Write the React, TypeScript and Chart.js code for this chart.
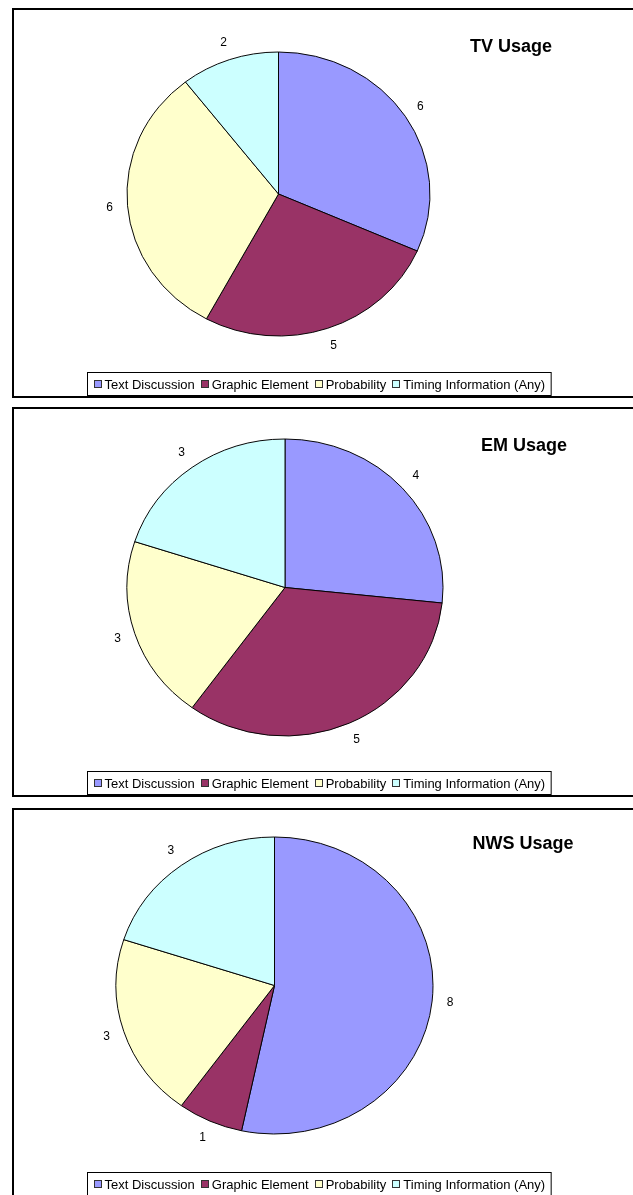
import React, { useEffect, useRef } from "react";
import { Chart, registerables } from "chart.js";

Chart.register(...registerables);

// ---- data ----
const categories = ["Text Discussion", "Graphic Element", "Probability", "Timing Information (Any)"];
const tvValues = [6, 5, 6, 2];
const emValues = [4, 5, 3, 3];
const nwsValues = [8, 1, 3, 3];
const chartTitles = ["TV Usage", "EM Usage", "NWS Usage"];
const seriesValues = [tvValues, emValues, nwsValues];
const sliceColors = ["#9999FF", "#993366", "#FFFFCC", "#CCFFFF"];

// ---- layout (page coordinates) ----
const BORDER = 2;
const PANEL_LEFT = 12;
const PANEL_H = 390;
const CANVAS_W = 633 - PANEL_LEFT - BORDER;
const CANVAS_H = PANEL_H - 2 * BORDER;
const panelLayouts = [
  { top: 8, cx: 278.5, cy: 194, rx: 151.5, ry: 142, titleX: 511, titleY: 52 },
  { top: 407, cx: 285, cy: 587.5, rx: 158, ry: 148.5, titleX: 524, titleY: 451 },
  { top: 808, cx: 274.5, cy: 985.5, rx: 158.5, ry: 148.5, titleX: 523, titleY: 849 },
];
const LEGEND_CX = 318.5;
const LEGEND_TOP_OFFSET = 364; // from panel top
const LEGEND_H = 23;
const FONT = "'Liberation Sans', Arial, Helvetica, sans-serif";

function PiePanel({ idx }: { idx: number }) {
  const ref = useRef<HTMLCanvasElement | null>(null);
  const L = panelLayouts[idx];
  const ox = PANEL_LEFT + BORDER;
  const oy = L.top + BORDER;

  useEffect(() => {
    if (!ref.current) return;
    const cx = L.cx - ox;
    const cy = L.cy - oy;
    const k = L.ry / L.rx;

    const ellipsePlugin = {
      id: "ellipseAndLabels",
      beforeDatasetsDraw(chart: any) {
        const ctx = chart.ctx;
        const a = chart.getDatasetMeta(0).data[0];
        ctx.save();
        ctx.translate(a.x, a.y);
        ctx.scale(1, k);
        ctx.translate(-a.x, -a.y);
      },
      afterDatasetsDraw(chart: any) {
        const ctx = chart.ctx;
        ctx.restore();
        const meta = chart.getDatasetMeta(0);
        const data = chart.data.datasets[0].data as number[];
        ctx.save();
        ctx.fillStyle = "#000";
        ctx.font = `12px ${FONT}`;
        ctx.textAlign = "center";
        ctx.textBaseline = "middle";
        const d = 18;
        meta.data.forEach((arc: any, i: number) => {
          const mid = (arc.startAngle + arc.endAngle) / 2;
          const r = arc.outerRadius;
          const x = arc.x + (r + d) * Math.cos(mid);
          const y = arc.y + (r * k + d) * Math.sin(mid);
          ctx.fillText(String(data[i]), x, y);
        });
        // title
        ctx.font = `bold 18px ${FONT}`;
        ctx.textBaseline = "alphabetic";
        ctx.fillText(chartTitles[idx], L.titleX - ox, L.titleY - oy);
        // legend
        ctx.font = `13px ${FONT}`;
        const marker = 8;
        const gapAfterMarker = 3;
        const gapItems = 6;
        const padX = 6;
        const widths = categories.map((c) => ctx.measureText(c).width);
        let total = padX * 2;
        widths.forEach((w, i) => {
          total += marker + gapAfterMarker + w + (i < widths.length - 1 ? gapItems : 0);
        });
        const bx = Math.round(LEGEND_CX - ox - total / 2) + 0.5;
        const by = LEGEND_TOP_OFFSET - BORDER + 0.5;
        ctx.strokeStyle = "#000";
        ctx.lineWidth = 1;
        ctx.fillStyle = "#fff";
        ctx.fillRect(bx, by, total, LEGEND_H);
        ctx.strokeRect(bx, by, total, LEGEND_H);
        let x = bx + padX;
        const midY = by + LEGEND_H / 2;
        ctx.textAlign = "left";
        ctx.textBaseline = "middle";
        categories.forEach((c, i) => {
          const mx = Math.round(x) + 0.5;
          const my = Math.round(midY - marker / 2) + 0.5;
          ctx.fillStyle = sliceColors[i];
          ctx.fillRect(mx, my, marker - 1, marker - 1);
          ctx.strokeStyle = "#333";
          ctx.strokeRect(mx, my, marker - 1, marker - 1);
          x += marker + gapAfterMarker;
          ctx.fillStyle = "#000";
          ctx.fillText(c, x, midY + 1);
          x += widths[i] + gapItems;
        });
        ctx.restore();
      },
    };

    const chart = new Chart(ref.current, {
      type: "pie",
      data: {
        labels: categories,
        datasets: [
          {
            data: seriesValues[idx],
            backgroundColor: sliceColors,
            borderColor: "#000",
            borderWidth: 1,
          },
        ],
      },
      options: {
        responsive: false,
        devicePixelRatio: 1,
        animation: false,
        events: [],
        radius: L.rx,
        layout: {
          padding: { left: 0, top: 0, right: CANVAS_W - 2 * cx, bottom: CANVAS_H - 2 * cy },
        },
        plugins: {
          legend: { display: false },
          tooltip: { enabled: false },
          title: { display: false },
        },
      } as any,
      plugins: [ellipsePlugin],
    });
    return () => chart.destroy();
  }, [idx]);

  return (
    <div
      style={{
        position: "absolute",
        left: PANEL_LEFT,
        top: L.top,
        width: 700,
        height: PANEL_H,
        border: `${BORDER}px solid #000`,
        boxSizing: "border-box",
        background: "#fff",
      }}
    >
      <canvas
        ref={ref}
        width={CANVAS_W}
        height={CANVAS_H}
        style={{ position: "absolute", left: 0, top: 0, width: CANVAS_W, height: CANVAS_H }}
      />
    </div>
  );
}

export default function App() {
  return (
    <div
      style={{
        position: "fixed",
        left: 0,
        top: 0,
        width: 633,
        height: 1195,
        overflow: "hidden",
        background: "#fff",
      }}
    >
      {[0, 1, 2].map((i) => (
        <PiePanel key={i} idx={i} />
      ))}
    </div>
  );
}
